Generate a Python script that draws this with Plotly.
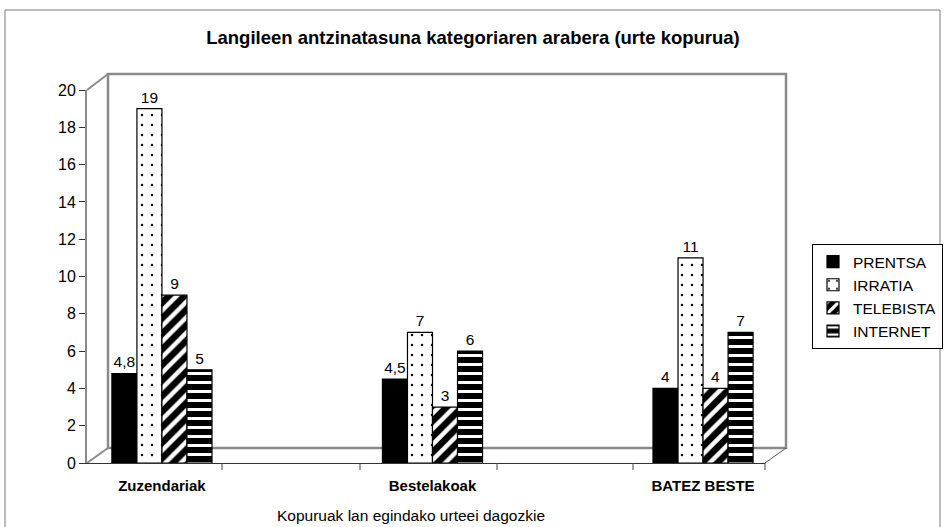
import plotly.graph_objects as go

categories = ["Zuzendariak", "Bestelakoak", "BATEZ BESTE"]
series_names = ["PRENTSA", "IRRATIA", "TELEBISTA", "INTERNET"]
prentsa = [4.8, 4.5, 4]
irratia = [19, 7, 11]
telebista = [9, 3, 4]
internet = [5, 6, 7]
y_ticks = list(range(0, 21, 2))

title = "Langileen antzinatasuna kategoriaren arabera (urte kopurua)"
footnote = "Kopuruak lan egindako urteei dagozkie"

FONT = "Arial, Liberation Sans, sans-serif"

def lab(vals):
    return [f"{v:g}".replace(".", ",") for v in vals]

patterns = [
    dict(shape=""),
    dict(shape=".", fgcolor="black", bgcolor="white", size=10, solidity=0.05, fillmode="replace"),
    dict(shape="/", fgcolor="white", bgcolor="black", size=11, solidity=0.4, fillmode="replace"),
    dict(shape="-", fgcolor="white", bgcolor="black", size=9, solidity=0.33, fillmode="replace"),
]
colors = ["black", "white", "black", "black"]

fig = go.Figure()
for i, (name, vals) in enumerate(zip(series_names, [prentsa, irratia, telebista, internet])):
    fig.add_trace(go.Bar(
        x=categories, y=vals, name=name, legendgroup=name,
        text=lab(vals), textposition="outside",
        textfont=dict(family=FONT, size=15.5, color="black"),
        cliponaxis=False,
        marker=dict(color=colors[i], line=dict(color="black", width=1.2), pattern=patterns[i]),
    ))

# geometry helpers (paper coords), plot area x 87->765, y 90->463
def xp(px):
    return (px - 87) / 678.0
def yp(py):
    return (463 - py) / 373.0

gray = "#8a8a8a"
shapes = []
# outer border
shapes.append(dict(type="rect", xref="paper", yref="paper", x0=xp(5), x1=xp(940), y0=yp(540), y1=yp(10),
                   line=dict(color="#7a7a7a", width=1), layer="below"))
# back wall
shapes.append(dict(type="rect", xref="paper", yref="paper", x0=xp(108), x1=xp(786), y0=yp(448), y1=yp(74),
                   line=dict(color=gray, width=2.5), layer="below"))
# left wall top diagonal
shapes.append(dict(type="line", xref="paper", yref="paper", x0=xp(87), y0=yp(90), x1=xp(108), y1=yp(74),
                   line=dict(color=gray, width=2), layer="below"))
# floor diagonals
shapes.append(dict(type="line", xref="paper", yref="paper", x0=xp(87), y0=yp(463), x1=xp(108), y1=yp(448),
                   line=dict(color=gray, width=2), layer="below"))
shapes.append(dict(type="line", xref="paper", yref="paper", x0=xp(765), y0=yp(463), x1=xp(786), y1=yp(448),
                   line=dict(color="#555555", width=1), layer="below"))
# category axis tick marks (between categories)
for px in [222, 360, 497, 633, 765]:
    shapes.append(dict(type="line", xref="paper", yref="paper", x0=xp(px), x1=xp(px), y0=yp(463), y1=yp(470),
                       line=dict(color="#444444", width=1)))

fig.update_layout(
    width=946, height=527, autosize=False,
    margin=dict(l=87, r=181, t=90, b=64),
    paper_bgcolor="white", plot_bgcolor="rgba(0,0,0,0)",
    font=dict(family=FONT, size=15, color="black"),
    barmode="group", bargap=0.63, bargroupgap=0,
    title=dict(text="<b>" + title + "</b>", x=0.5, xanchor="center", y=1 - 38 / 527, yanchor="middle",
               font=dict(family=FONT, size=18.5, color="black")),
    showlegend=True,
    legend=dict(xref="container", yref="container", x=812 / 946, y=1 - 244 / 527,
                xanchor="left", yanchor="top",
                bordercolor="black", borderwidth=1, bgcolor="white",
                font=dict(family=FONT, size=15.5, color="black"),
                itemwidth=30, tracegroupgap=3, traceorder="normal"),
    shapes=shapes,
    annotations=[dict(text=footnote, xref="paper", yref="paper", x=xp(411), y=yp(515),
                      xanchor="center", yanchor="middle", showarrow=False,
                      font=dict(family=FONT, size=15.5, color="black"))],
)
fig.update_xaxes(
    type="category", range=[-0.277, 2.229], showgrid=False, zeroline=False,
    showline=True, linecolor="#333333", linewidth=1, ticks="",
    tickfont=dict(family=FONT, size=15, color="black", weight="bold"),
    ticklabelstandoff=9,
)
fig.update_yaxes(
    range=[0, 20], tickvals=y_ticks, showgrid=False, zeroline=False,
    showline=True, linecolor=gray, linewidth=2,
    ticks="outside", ticklen=6, tickcolor="#333333", tickwidth=1,
    tickfont=dict(family=FONT, size=16, color="black"),
)

fig.write_html("out.html", config={"displayModeBar": False},
               post_script="document.body.style.margin='0';document.body.style.padding='0';")
